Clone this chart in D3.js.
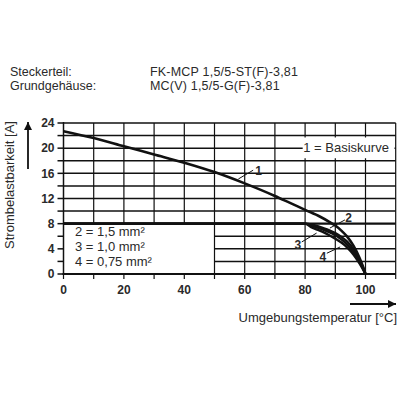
<!DOCTYPE html>
<html><head><meta charset="utf-8">
<script src="https://cdn.jsdelivr.net/npm/d3@7"></script>
<style>body{margin:0;background:#fff}svg{display:block}text{font-family:"Liberation Sans",Arial,sans-serif}</style>
</head><body>
<svg id="c" width="400" height="400"></svg>
<script>
// ---- data ----
const headerLabels = ["Steckerteil:", "Grundgehäuse:"];
const headerValues = ["FK-MCP 1,5/5-ST(F)-3,81", "MC(V) 1,5/5-G(F)-3,81"];
const xTickLabels = [0, 20, 40, 60, 80, 100];
const yTickLabels = [0, 4, 8, 12, 16, 20, 24];
const curve1X = [0,10,20,30,40,50,60,70,75,80,85,88,90,92,94,96,98,99,100];
const curve1Y = [22.7,21.6,20.3,19.0,17.7,16.2,14.4,12.4,11.3,10.2,9.1,8.3,7.7,6.9,5.9,4.5,2.6,1.4,0];
const curve2X = [0,80,83,86,88,90,92,94,96,98,99,100];
const curve2Y = [8,8,7.75,7.3,6.95,6.5,5.9,5.1,3.95,2.3,1.25,0];
const curve3X = [0,80,83,86,88,90,92,94,96,98,99,100];
const curve3Y = [8,8,7.55,7.05,6.65,6.15,5.5,4.65,3.5,1.95,1.0,0];
const curve4X = [0,80,82,84,86,88,90,92,94,96,98,99,100];
const curve4Y = [8,8,7.45,7.05,6.65,6.15,5.6,5.0,4.2,3.1,1.7,0.9,0];
const legendLines = ["2 = 1,5 mm²", "3 = 1,0 mm²", "4 = 0,75 mm²"];
const baseLabel = "1 = Basiskurve";
const yTitle = "Strombelastbarkeit [A]";
const xTitle = "Umgebungstemperatur [°C]";
// curve tags: [label, leaderStartX, leaderStartY, leaderEndX, leaderEndY, textX, textY]
const curveTags = [
  ["1", 57.9, 15.1, 62.8, 16.5, 64.6, 16.5],
  ["2", 88.2, 7.3, 93.2, 8.6, 94.4, 8.9],
  ["3", 83.8, 6.5, 78.9, 5.1, 77.6, 4.6],
  ["4", 91.6, 4.3, 87.2, 3.3, 85.9, 2.75]
];

// ---- chart ----
const svg = d3.select("#c");
const x = d3.scaleLinear().domain([0, 110]).range([63.5, 395.7]);
const y = d3.scaleLinear().domain([0, 24]).range([274, 123]);
const ink = "#111", txt = "#2a2a2a";

// header
const hdr = svg.append("g").attr("fill", txt).style("font-size", "12.5px");
headerLabels.forEach((t, i) => {
  hdr.append("text").attr("x", 10).attr("y", 76 + i * 14).text(t);
  hdr.append("text").attr("x", 150).attr("y", 76 + i * 14).style("letter-spacing", "0.2px").text(headerValues[i]);
});

const grid = svg.append("g").attr("stroke", ink).attr("fill", "none");
// horizontal grid lines
d3.range(2, 25, 2).forEach(v => {
  grid.append("line")
    .attr("x1", x(v < 8 ? 50 : 0)).attr("x2", x(110))
    .attr("y1", y(v)).attr("y2", y(v))
    .attr("stroke-width", v === 8 ? 2.2 : 1.5);
});
// vertical grid lines
d3.range(10, 111, 10).forEach(v => {
  grid.append("line")
    .attr("x1", x(v)).attr("x2", x(v))
    .attr("y1", y(v < 50 ? 8 : 0)).attr("y2", y(24))
    .attr("stroke-width", 1.2);
});
// axes lines
grid.append("line").attr("x1", x(0)).attr("x2", x(0)).attr("y1", y(0) + 1).attr("y2", y(24) - 1).attr("stroke-width", 1.5);
grid.append("line").attr("x1", x(0) - 1).attr("x2", x(110)).attr("y1", y(0)).attr("y2", y(0)).attr("stroke-width", 1.8);
// y ticks
d3.range(0, 25, 2).forEach(v => {
  grid.append("line").attr("x1", x(0) - 6).attr("x2", x(0)).attr("y1", y(v)).attr("y2", y(v)).attr("stroke-width", 1.5);
});
// x ticks
d3.range(0, 111, 10).forEach(v => {
  grid.append("line").attr("x1", x(v)).attr("x2", x(v)).attr("y1", y(0)).attr("y2", y(0) + 5).attr("stroke-width", 1.2);
});

// tick labels
const tl = svg.append("g").attr("fill", txt).style("font-size", "12px").style("font-weight", "bold");
yTickLabels.forEach(v => {
  tl.append("text").attr("x", x(0) - 9).attr("y", y(v)).attr("dy", "0.36em").attr("text-anchor", "end").text(v);
});
xTickLabels.forEach(v => {
  tl.append("text").attr("x", x(v)).attr("y", y(0) + 20).attr("text-anchor", "middle").text(v);
});

// basis label box
svg.append("rect").attr("x", x(79.2)).attr("y", y(21.7)).attr("width", x(109.6) - x(79.2)).attr("height", y(18.4) - y(21.7)).attr("fill", "#fff");
svg.append("text").attr("x", x(79.4)).attr("y", y(20) + 4).attr("fill", txt).style("font-size", "13px").text(baseLabel);

// legend
const lg = svg.append("g").attr("fill", txt).style("font-size", "13px");
legendLines.forEach((t, i) => {
  lg.append("text").attr("x", 75).attr("y", 236 + i * 15).text(t);
});

// curves
const line = d3.line().x(d => x(d[0])).y(d => y(d[1])).curve(d3.curveMonotoneX);
const zip = (a, b) => a.map((v, i) => [v, b[i]]);
[[curve4X, curve4Y], [curve3X, curve3Y], [curve2X, curve2Y]].forEach(([cx, cy]) => {
  svg.append("path").attr("d", line(zip(cx, cy))).attr("fill", "none").attr("stroke", ink).attr("stroke-width", 2.4);
});
svg.append("path").attr("d", line(zip(curve1X, curve1Y))).attr("fill", "none").attr("stroke", ink).attr("stroke-width", 2.6);

// curve tags
const tg = svg.append("g");
curveTags.forEach(([t, x1, y1, x2, y2, tx, ty]) => {
  tg.append("line").attr("x1", x(x1)).attr("y1", y(y1)).attr("x2", x(x2)).attr("y2", y(y2)).attr("stroke", ink).attr("stroke-width", 1);
  tg.append("text").attr("x", x(tx)).attr("y", y(ty)).attr("dy", "0.36em").attr("text-anchor", "middle")
    .attr("fill", txt).style("font-size", "12px").style("font-weight", "bold").text(t);
});

// axis titles and arrows
svg.append("defs").append("marker").attr("id", "ah").attr("viewBox", "0 0 10 10").attr("refX", 10).attr("refY", 5)
  .attr("markerWidth", 12).attr("markerHeight", 8).attr("markerUnits", "userSpaceOnUse").attr("orient", "auto")
  .append("path").attr("d", "M0,0L10,5L0,10Z").attr("fill", ink);
svg.append("line").attr("x1", 28).attr("y1", 169).attr("x2", 28).attr("y2", 122).attr("stroke", ink).attr("stroke-width", 1.8).attr("marker-end", "url(#ah)");
svg.append("line").attr("x1", 350).attr("y1", 304).attr("x2", 396).attr("y2", 304).attr("stroke", ink).attr("stroke-width", 1.8).attr("marker-end", "url(#ah)");
svg.append("text").attr("transform", "translate(14,185) rotate(-90)").attr("text-anchor", "middle")
  .attr("fill", txt).style("font-size", "13px").text(yTitle);
svg.append("text").attr("x", 397).attr("y", 322).attr("text-anchor", "end")
  .attr("fill", txt).style("font-size", "13px").text(xTitle);
</script>
</body></html>
